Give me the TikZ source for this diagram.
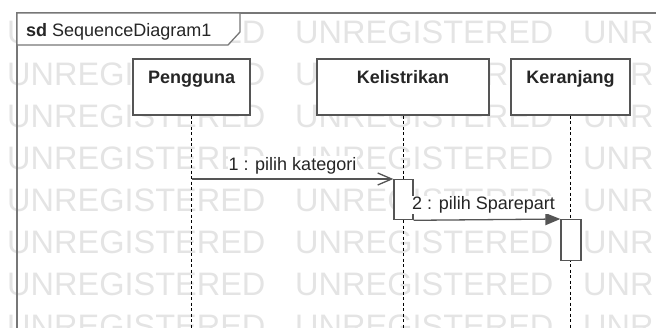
\documentclass[tikz,border=0pt]{standalone}
\usepackage{fontspec}
\setmainfont{Liberation Sans}
\usetikzlibrary{arrows.meta}
\definecolor{wm}{HTML}{E4E4E4}
\definecolor{ink}{HTML}{555555}
\definecolor{framecol}{HTML}{777777}
\definecolor{txt}{HTML}{262626}
\begin{document}
\begin{tikzpicture}[x=1pt,y=-1pt,
  every node/.style={font=\fontsize{18}{20}\selectfont, text=txt},
  watermark/.style={anchor=base west, inner sep=0pt, font=\fontsize{32.5}{34}\selectfont, text=wm},
  actorbox/.style={draw=ink, line width=1.3pt, fill=white, minimum width=#1, minimum height=56pt, inner sep=0pt},
  actorname/.style={anchor=base, inner sep=0pt, font=\bfseries\fontsize{18}{20}\selectfont},
  lifeline/.style={draw=black, line width=0.9pt, dash pattern=on 3pt off 2.5pt},
  activation/.style={draw=ink, line width=1.3pt, fill=white, inner sep=0pt, anchor=north},
  msg/.style={draw=ink, line width=1.3pt},
  msglabel/.style={anchor=base, fill=white, inner sep=1pt},
  frameline/.style={draw=framecol, line width=1.3pt}
]
\useasboundingbox (0,0) rectangle (656,327);
\clip (0,0) rectangle (656,327);

% background watermark rows
\foreach \r in {0,...,7} {
  \foreach \c in {0,1,2} {
    \node[watermark] (wm-\r-\c) at ({7+288*\c},{43+42*\r}) {UNREGISTERED};
  }
}

% diagram frame and its name tab
\coordinate (bottom) at (0,332);
\draw[frameline] (660,13) -- (17,13) -- (17,332);
\draw[frameline, fill=white] (17,13) -- (240,13) -- (240,32) -- (228,45) -- (17,45) -- cycle;
\node[anchor=base west, inner sep=0pt] (sd) at (26,36) {\textbf{sd} SequenceDiagram1};

% lifeline heads
\node[actorbox=117pt] (p) at (191.5,87) {};
\node[actorbox=172pt] (k) at (403,87) {};
\node[actorbox=119pt] (r) at (570.5,87) {};
\node[actorname] (pn) at (191.5,83) {Pengguna};
\node[actorname] (kn) at (403,83) {Kelistrikan};
\node[actorname] (rn) at (570.5,83) {Keranjang};

% lifelines
\draw[lifeline] (p.south) -- (p.south |- bottom);
\draw[lifeline] (k.south) -- (k.south |- bottom);
\draw[lifeline] (r.south) -- (r.south |- bottom);

% activation bars
\node[activation, minimum width=19pt, minimum height=40pt] (a1) at (403.5,179) {};
\node[activation, minimum width=20pt, minimum height=41pt] (a2) at (571,219) {};

% messages
\draw[msg, -{Straight Barb[length=14pt,width=12pt,line width=1.3pt]}]
  (p.south |- a1.north) -- (a1.north west)
  node[msglabel, pos=0.5, yshift=9pt] (m1) {1 : pilih kategori};
\draw[msg, -{Triangle[length=15pt,width=12pt]}]
  (a1.south east) -- (a2.north west)
  node[msglabel, pos=0.5, xshift=-3.5pt, yshift=10pt] (m2) {2 : pilih Sparepart};
\end{tikzpicture}
\end{document}
